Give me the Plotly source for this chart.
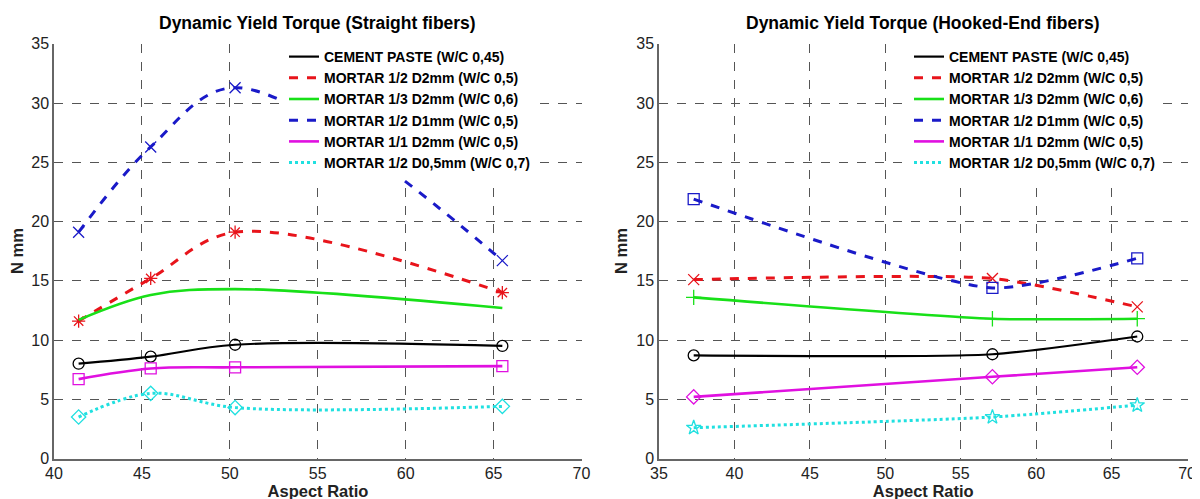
import plotly.graph_objects as go

# ---------------- data ----------------
series_names = [
    "CEMENT PASTE (W/C 0,45)",
    "MORTAR 1/2 D2mm (W/C 0,5)",
    "MORTAR 1/3 D2mm (W/C 0,6)",
    "MORTAR 1/2 D1mm (W/C 0,5)",
    "MORTAR 1/1 D2mm (W/C 0,5)",
    "MORTAR 1/2 D0,5mm (W/C 0,7)",
]

# Straight fibers
straight_ar = [41.4, 45.5, 50.3, 65.5]
straight_cement = [8.0, 8.6, 9.6, 9.5]
straight_m12_d2 = [11.6, 15.2, 19.1, 14.0]
straight_m13_d2 = [11.7, 13.8, 14.3, 12.7]
straight_m12_d1 = [19.1, 26.3, 31.3, 16.7]
straight_m11_d2 = [6.7, 7.6, 7.7, 7.8]
straight_m12_d05 = [3.5, 5.5, 4.3, 4.4]

# Hooked-end fibers
hooked_ar = [37.3, 57.1, 66.7]
hooked_cement = [8.7, 8.8, 10.3]
hooked_m12_d2 = [15.1, 15.2, 12.8]
hooked_m13_d2 = [13.6, 11.8, 11.8]
hooked_m12_d1 = [21.9, 14.4, 16.9]
hooked_m11_d2 = [5.2, 6.9, 7.7]
hooked_m12_d05 = [2.6, 3.5, 4.5]

x_ticks_left = [40, 45, 50, 55, 60, 65, 70]
x_ticks_right = [35, 40, 45, 50, 55, 60, 65, 70]
y_ticks = [0, 5, 10, 15, 20, 25, 30, 35]

# ---------------- styles ----------------
colors = ["#000000", "#e8141b", "#18e018", "#1a1ac8", "#e010e0", "#20e0e0"]
dashes = ["solid", "dash", "solid", "dash", "solid", "dot"]
widths = [2.2, 3, 2.6, 3, 2.6, 3]
left_symbols = ["circle-open", "asterisk-open", None, "x-thin-open", "square-open", "diamond-open"]
right_symbols = ["circle-open", "x-thin-open", "cross-thin-open", "square-open", "diamond-open", "star-open"]

FONT = "Liberation Sans, Arial, sans-serif"
OFF = 8  # page body margin offset (px)
W, H = 1200, 499

fig = go.Figure()

left_data = [straight_cement, straight_m12_d2, straight_m13_d2, straight_m12_d1, straight_m11_d2, straight_m12_d05]
right_data = [hooked_cement, hooked_m12_d2, hooked_m13_d2, hooked_m12_d1, hooked_m11_d2, hooked_m12_d05]

for i, (name, ys) in enumerate(zip(series_names, left_data)):
    sym = left_symbols[i]
    fig.add_trace(go.Scatter(
        x=straight_ar, y=ys, name=name, showlegend=False,
        mode="lines+markers" if sym else "lines",
        line=dict(color=colors[i], dash=dashes[i], width=widths[i], shape="spline", smoothing=1.0),
        marker=dict(symbol=sym or "circle", size=11, color=colors[i], line=dict(width=1.3, color=colors[i])),
        xaxis="x", yaxis="y",
    ))
    fig.add_trace(go.Scatter(
        x=[None], y=[None], name=name, mode="lines",
        line=dict(color=colors[i], dash=dashes[i], width=widths[i]),
        xaxis="x", yaxis="y", legend="legend",
    ))

for i, (name, ys) in enumerate(zip(series_names, right_data)):
    fig.add_trace(go.Scatter(
        x=hooked_ar, y=ys, name=name, showlegend=False,
        mode="lines+markers",
        line=dict(color=colors[i], dash=dashes[i], width=widths[i], shape="spline", smoothing=0.6),
        marker=dict(symbol=right_symbols[i], size=11, color=colors[i], line=dict(width=1.3, color=colors[i])),
        xaxis="x2", yaxis="y2",
    ))
    fig.add_trace(go.Scatter(
        x=[None], y=[None], name=name, mode="lines",
        line=dict(color=colors[i], dash=dashes[i], width=widths[i]),
        xaxis="x2", yaxis="y2", legend="legend2",
    ))

axis_common = dict(
    showgrid=True, gridcolor="#555555", griddash="dash", gridwidth=1,
    showline=True, linecolor="#666666", linewidth=1.5, automargin=False,
    zeroline=False, ticks="", tickfont=dict(family=FONT, size=16, color="#222222"),
)

def px(v):
    return (v - OFF) / W

def py(v):
    return 1 - (v - OFF) / H

ydom = [py(458.5), py(43.5)]
title_font = dict(family=FONT, size=16.5, color="#222")
legend_font = dict(family=FONT, size=14, color="black", weight="bold")

fig.update_layout(
    width=W, height=H,
    margin=dict(l=0, r=0, t=0, b=0),
    paper_bgcolor="white", plot_bgcolor="white",
    font=dict(family=FONT),
    xaxis=dict(domain=[px(54), px(582)], range=[40, 70.03], tickvals=x_ticks_left,
               title=dict(text="<b>Aspect Ratio</b>", font=title_font, standoff=0),
               anchor="y", **axis_common),
    yaxis=dict(domain=ydom, range=[0, 35.03], tickvals=y_ticks,
               title=dict(text="<b>N mm</b>", font=title_font, standoff=4),
               anchor="x", **axis_common),
    xaxis2=dict(domain=[px(659), px(1187.5)], range=[35, 70.03], tickvals=x_ticks_right,
                title=dict(text="<b>Aspect Ratio</b>", font=title_font, standoff=0),
                anchor="y2", **axis_common),
    yaxis2=dict(domain=ydom, range=[0, 35.03], tickvals=y_ticks,
                title=dict(text="<b>N mm</b>", font=title_font, standoff=4),
                anchor="x2", **axis_common),
    legend=dict(x=px(284), y=py(41), xanchor="left", yanchor="top",
                bgcolor="white", borderwidth=0, font=legend_font,
                tracegroupgap=0, itemwidth=30),
    legend2=dict(x=px(909), y=py(41), xanchor="left", yanchor="top",
                 bgcolor="white", borderwidth=0, font=legend_font,
                 tracegroupgap=0, itemwidth=30),
    annotations=[
        dict(text="<b>Dynamic Yield Torque (Straight fibers)</b>", x=px(317), y=py(23),
             xref="paper", yref="paper", xanchor="center", yanchor="middle", showarrow=False,
             font=dict(family=FONT, size=17.5, color="black")),
        dict(text="<b>Dynamic Yield Torque (Hooked-End fibers)</b>", x=px(923), y=py(23),
             xref="paper", yref="paper", xanchor="center", yanchor="middle", showarrow=False,
             font=dict(family=FONT, size=17.5, color="black")),
    ],
)

fig.write_html("out.html")
